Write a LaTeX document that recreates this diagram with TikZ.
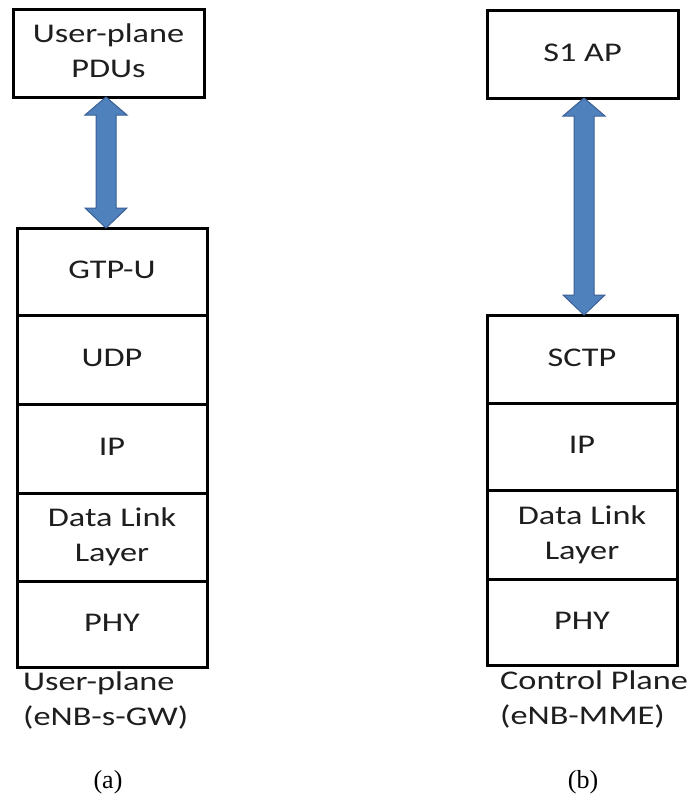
\documentclass[tikz,border=0pt]{standalone}
\usepackage{fontspec}
\setmainfont{Carlito}
\newfontfamily\captionserif{Liberation Serif}
\usetikzlibrary{calc}
\definecolor{arrowfill}{HTML}{4F81BD}
\definecolor{arrowedge}{HTML}{3A6094}
\definecolor{inktext}{HTML}{1E1E1E}
% box and label texts are set slightly wide
\newcommand\widetext[1]{\scalebox{1.27}[1]{\begin{tabular}{@{}c@{}}#1\end{tabular}}}
\newcommand\widelabel[1]{\scalebox{1.27}[1]{\begin{tabular}{@{}l@{}}#1\end{tabular}}}

\begin{document}
\begin{tikzpicture}[x=1pt,y=-1pt,
  layer/.style={draw=black, line width=3pt, fill=white, minimum width=190pt,
    inner sep=0pt, outer sep=0pt, text=inktext,
    font=\fontsize{27}{35}\selectfont},
  planelabel/.style={anchor=west, inner sep=0pt, text=inktext,
    font=\fontsize{27}{35}\selectfont},
  subcaption/.style={inner sep=0pt, text=black,
    font=\captionserif\fontsize{26}{30}\selectfont},
  blockarrow/.style={fill=arrowfill, draw=arrowedge, line width=1pt, line join=miter}
]
\fill[white] (0,0) rectangle (695,803);
\useasboundingbox (0,0) rectangle (695,803);

% (a) user-plane stack
\node[layer, minimum width=191pt, minimum height=88pt] (pdu) at (108.5,53) {\widetext{User-plane\\PDUs}};
\node[layer, minimum height=87pt] (gtp) at (112,271.5) {\widetext{GTP-U}};
\node[layer, minimum height=89pt] (udp) at (112,359.5) {\widetext{UDP}};
\node[layer, minimum height=89pt] (ipa) at (112,448.5) {\widetext{IP}};
\node[layer, minimum height=88pt] (dlla) at (112,537) {\widetext{Data Link\\Layer}};
\node[layer, minimum height=86pt] (phya) at (112,624) {\widetext{PHY}};
\node[planelabel] (lbla) at (23,701) {\widelabel{User-plane\\(eNB-s-GW)}};
\node[subcaption] (capa) at (108,782) {(a)};

% (b) control-plane stack
\node[layer, minimum width=191pt, minimum height=88pt] (sap) at (582.5,54) {\widetext{S1 AP}};
\node[layer, minimum height=88pt] (sctp) at (582,359) {\widetext{SCTP}};
\node[layer, minimum height=87pt] (ipb) at (582,446.5) {\widetext{IP}};
\node[layer, minimum height=89pt] (dllb) at (582,534.5) {\widetext{Data Link\\Layer}};
\node[layer, minimum height=86pt] (phyb) at (582,622) {\widetext{PHY}};
\node[planelabel] (lblb) at (500,700) {\widelabel{Control Plane\\(eNB-MME)}};
\node[subcaption] (capb) at (583,782) {(b)};

% double-headed block arrows between the top boxes and the stacks
\filldraw[blockarrow] let \p1=($(pdu.south)+(-2.5,0)$), \p2=(gtp.north) in
  (\x1,\y1) -- (\x1+21pt,\y1-18pt) -- (\x1+10pt,\y1-18pt) -- (\x1+10pt,\y2+20pt)
  -- (\x1+21pt,\y2+20pt) -- (\x1,\y2) -- (\x1-21pt,\y2+20pt) -- (\x1-10pt,\y2+20pt)
  -- (\x1-10pt,\y1-18pt) -- (\x1-21pt,\y1-18pt) -- cycle;
\filldraw[blockarrow] let \p1=($(sap.south)+(1.5,0)$), \p2=(sctp.north) in
  (\x1,\y1) -- (\x1+21pt,\y1-18pt) -- (\x1+10pt,\y1-18pt) -- (\x1+10pt,\y2+20pt)
  -- (\x1+21pt,\y2+20pt) -- (\x1,\y2) -- (\x1-21pt,\y2+20pt) -- (\x1-10pt,\y2+20pt)
  -- (\x1-10pt,\y1-18pt) -- (\x1-21pt,\y1-18pt) -- cycle;
\end{tikzpicture}
\end{document}
